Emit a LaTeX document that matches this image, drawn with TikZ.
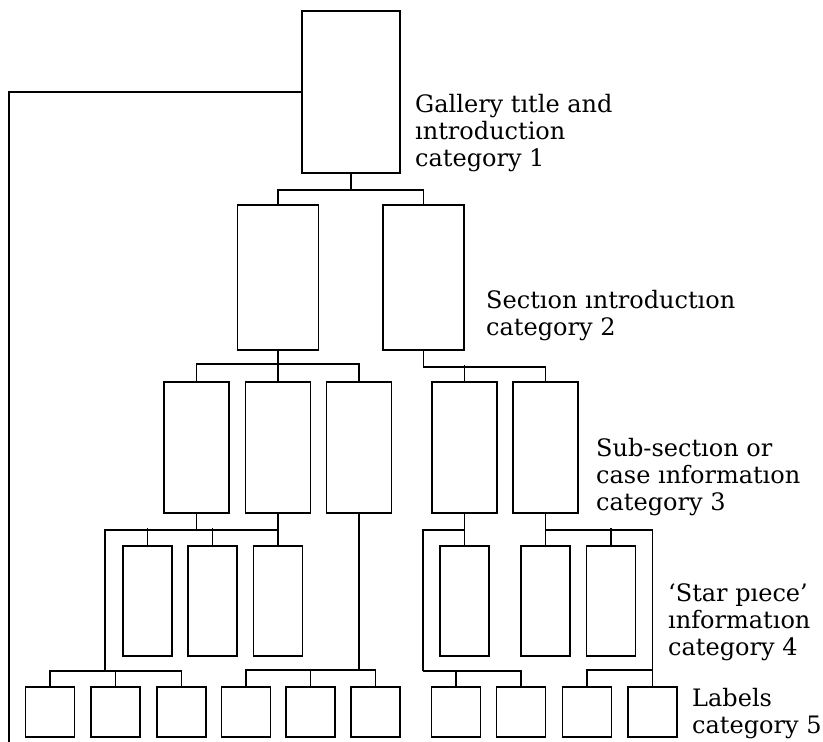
\documentclass[tikz,border=0pt]{standalone}
\usepackage{fontspec}
\setmainfont{DejaVu Serif}
\usetikzlibrary{positioning}

\begin{document}
\begin{tikzpicture}[
  x=1pt, y=-1pt,
  box/.style={draw=black, line width=1.8pt, inner sep=0pt, fill=white},
  catone/.style={box, minimum width=98pt, minimum height=162pt},
  cattwo/.style={box, minimum width=81pt, minimum height=145pt},
  catthree/.style={box, minimum width=65pt, minimum height=131pt},
  catfour/.style={box, minimum width=49pt, minimum height=110pt},
  catfive/.style={box, minimum width=49pt, minimum height=50pt},
  note/.style={anchor=base west, align=left, inner sep=0pt, font=\fontsize{24}{27}\selectfont},
  link/.style={line width=1.8pt, draw=black}
]
\useasboundingbox (0,0) rectangle (823,742);

% category 1 and 2
\node[catone] (t1) at (351,92) {};
\node[cattwo] (s1) at (278,277.5) {};
\node[cattwo] (s2) at (423.5,277.5) {};

% category 3
\node[catthree] (c1) at (196.5,447.5) {};
\node[catthree] (c2) at (278,447.5) {};
\node[catthree] (c3) at (359,447.5) {};
\node[catthree] (c4) at (464.5,447.5) {};
\node[catthree] (c5) at (545.5,447.5) {};

% category 4
\node[catfour] (p1) at (147.5,601) {};
\node[catfour] (p2) at (212.5,601) {};
\node[catfour] (p3) at (278,601) {};
\node[catfour] (p4) at (464.5,601) {};
\node[catfour] (p5) at (545.5,601) {};
\node[catfour] (p6) at (611,601) {};

% category 5
\node[catfive] (l1) at (50,712) {};
\node[catfive] (l2) at (115.5,712) {};
\node[catfive] (l3) at (181.5,712) {};
\node[catfive] (l4) at (246,712) {};
\node[catfive] (l5) at (310.5,712) {};
\node[catfive] (l6) at (375.5,712) {};
\node[catfive] (l7) at (456,712) {};
\node[catfive] (l8) at (521,712) {};
\node[catfive] (l9) at (587,712) {};
\node[catfive] (l10) at (652.5,712) {};

% labels (base = last line)
\node[note] (gallery) at (415,166) {Gallery tıtle and\\ıntroduction\\category 1};
\node[note] (section) at (486,335) {Sectıon ıntroductıon\\category 2};
\node[note] (subsec) at (596,510) {Sub-sectıon or\\case ınformatıon\\category 3};
\node[note] (star) at (668,655) {‘Star pıece’\\ınformatıon\\category 4};
\node[note] (labels) at (692,733) {Labels\\category 5};

\coordinate (edge) at (9,742);
\coordinate (j1) at (105,671);
\coordinate (j2) at (423,671);

% links
\draw[link] (t1.west) -| (edge);
\draw[link] (t1.south) -- ++(0,16) coordinate (b1);
\draw[link] (s1.north) |- (b1) -| (s2.north);

\draw[link] (s1.south) -- (c2.north);
\draw[link] (c1.north) -- ++(0,-17) -| (c3.north);
\draw[link] (s2.south) -- ++(0,16) -| (c5.north);
\draw[link] (c4.north) -- ++(0,-16);

\draw[link] (c1.south) -- ++(0,16);
\draw[link] (c2.south) -- (p3.north);
\draw[link] (c2.south) ++(0,16) -| (j1);
\draw[link] (p1.north) -- ++(0,-17);
\draw[link] (p2.north) -- ++(0,-17);
\draw[link] (l1.north) |- (j1) -| (l3.north);
\draw[link] (l2.north) -- ++(0,-16);

\draw[link] (c3.south) -- (c3.south |- j1);
\draw[link] (l4.north) -- ++(0,-16) -| (l6.north);
\draw[link] (l5.north) -- ++(0,-16);

\draw[link] (c4.south) -- (p4.north);
\draw[link] (c4.south) ++(0,16) -| (j2);
\draw[link] (j2) -| (l8.north);
\draw[link] (l7.north) -- ++(0,-16);

\draw[link] (c5.south) -- (p5.north);
\draw[link] (c5.south) ++(0,16) -| (l10.north);
\draw[link] (p6.north) -- ++(0,-17);
\draw[link] (l9.north) -- ++(0,-16) -| (l10.north);
\end{tikzpicture}
\end{document}
